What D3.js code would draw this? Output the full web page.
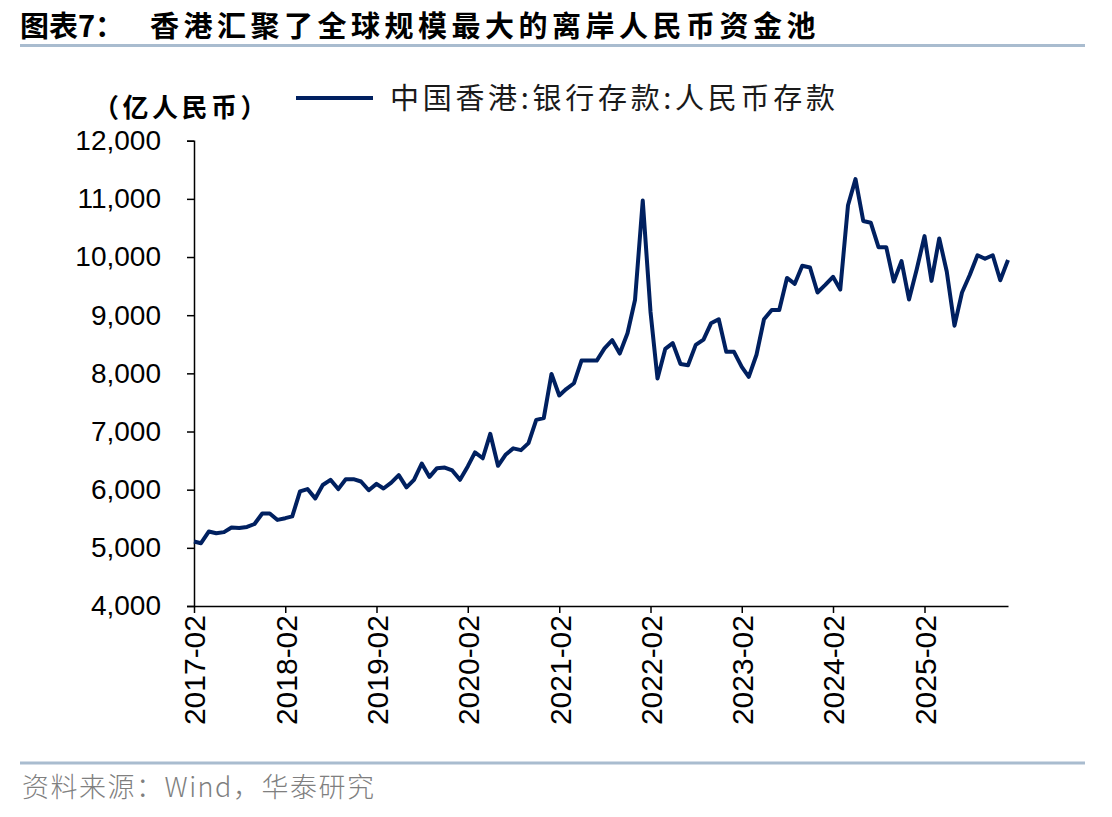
<!DOCTYPE html>
<html>
<head>
<meta charset="utf-8">
<script src="https://cdn.jsdelivr.net/npm/d3@7"></script>
<style>
  html, body { margin: 0; padding: 0; background: #fff; }
  svg { display: block; }
</style>
</head>
<body>
<div id="chart"></div>
<script>
// 数据：中国香港 银行存款 人民币存款（亿人民币），月度，2017-02 起
const startMonth = '2017-02';
const deposits2017 = [5110, 5080, 5280, 5250, 5270, 5350, 5340, 5360, 5410, 5590, 5590];
const deposits2018 = [5480, 5510, 5540, 5970, 6010, 5850, 6080, 6170, 6010, 6180, 6180, 6140];
const deposits2019 = [5990, 6100, 6020, 6120, 6250, 6040, 6170, 6450, 6220, 6370, 6380, 6330];
const deposits2020 = [6170, 6400, 6640, 6540, 6960, 6410, 6600, 6710, 6680, 6800, 7200, 7230];
const deposits2021 = [7990, 7620, 7730, 7830, 8220, 8220, 8220, 8430, 8570, 8340, 8690, 9260];
const deposits2022 = [10970, 9060, 7910, 8420, 8520, 8160, 8140, 8490, 8580, 8860, 8930, 8370];
const deposits2023 = [8370, 8110, 7940, 8320, 8930, 9090, 9090, 9640, 9540, 9850, 9820, 9390];
const deposits2024 = [9520, 9660, 9440, 10890, 11340, 10620, 10590, 10170, 10170, 9580, 9930, 9270];
const deposits2025 = [9790, 10360, 9590, 10320, 9750, 8820, 9390, 9690, 10030, 9970, 10030, 9600];
const deposits2026 = [9950];

const xTickLabels = ['2017-02', '2018-02', '2019-02', '2020-02', '2021-02', '2022-02', '2023-02', '2024-02', '2025-02'];
const yTicks = [4000, 5000, 6000, 7000, 8000, 9000, 10000, 11000, 12000];

const seriesName = '中国香港:银行存款:人民币存款';
const unitLabel = '（亿人民币）';
const titleText = '图表7：';
const titleMain = '香港汇聚了全球规模最大的离岸人民币资金池';
const sourceText = '资料来源：Wind，华泰研究';

// 组装数据
const parseMonth = d3.timeParse('%Y-%m');
const values = [].concat(deposits2017, deposits2018, deposits2019, deposits2020, deposits2021,
  deposits2022, deposits2023, deposits2024, deposits2025, deposits2026);
const start = parseMonth(startMonth);
const data = values.map((v, i) => ({ date: d3.timeMonth.offset(start, i), value: v }));

const width = 1112, height = 817;
const plot = { left: 194, right: 1008, top: 140.7, bottom: 606 };
const lineColor = '#002060';
const cjk = '"Noto Sans CJK SC", "Noto Sans", sans-serif';
const latin = '"Liberation Sans", Arial, sans-serif';

const svg = d3.select('#chart')
  .append('svg')
  .attr('width', width)
  .attr('height', height);

svg.append('rect').attr('width', width).attr('height', height).attr('fill', '#fff');

// 标题
const title = svg.append('text')
  .attr('x', 20)
  .attr('y', 37)
  .style('font-family', cjk)
  .style('font-weight', 700)
  .style('font-size', '29px')
  .attr('fill', '#000');
title.append('tspan').text(titleText);
title.append('tspan').attr('x', 150).style('letter-spacing', '4.5px').text(titleMain);

// 标题下方分隔线 和 底部分隔线
svg.append('line')
  .attr('x1', 20).attr('x2', 1085).attr('y1', 45.5).attr('y2', 45.5)
  .style('stroke', '#a9bccf').style('stroke-width', 3);
svg.append('line')
  .attr('x1', 20).attr('x2', 1085).attr('y1', 763).attr('y2', 763)
  .style('stroke', '#a9bccf').style('stroke-width', 3);

// 资料来源
svg.append('text')
  .attr('x', 22)
  .attr('y', 797)
  .style('font-family', cjk)
  .style('font-weight', 300)
  .style('font-size', '27px')
  .style('letter-spacing', '1.5px')
  .attr('fill', '#7f7f7f')
  .text(sourceText);

// 比例尺
const x = d3.scaleTime()
  .domain(d3.extent(data, d => d.date))
  .range([plot.left, plot.right]);

const y = d3.scaleLinear()
  .domain([4000, 12000])
  .range([plot.bottom, plot.top]);

// y 轴
const yAxis = svg.append('g')
  .attr('transform', `translate(${plot.left},0)`)
  .call(d3.axisLeft(y).tickValues(yTicks).tickSize(7).tickPadding(26)
    .tickFormat(d3.format(',')));
yAxis.select('.domain').attr('stroke', '#000').attr('stroke-width', 1.5);
yAxis.selectAll('.tick line').attr('stroke', '#000').attr('stroke-width', 1.5);
yAxis.selectAll('.tick text')
  .style('font-family', latin)
  .style('font-size', '28px')
  .attr('fill', '#000');

// x 轴
const xAxis = svg.append('g')
  .attr('transform', `translate(0,${plot.bottom})`)
  .call(d3.axisBottom(x).tickValues(xTickLabels.map(parseMonth)).tickSize(7).tickSizeOuter(0)
    .tickFormat(d3.timeFormat('%Y-%m')));
xAxis.select('.domain').attr('stroke', '#000').attr('stroke-width', 1.5);
xAxis.selectAll('.tick line').attr('stroke', '#000').attr('stroke-width', 1.5);
xAxis.selectAll('.tick text')
  .attr('transform', 'rotate(-90)')
  .attr('x', -9)
  .attr('y', 0)
  .attr('dy', '0.36em')
  .style('text-anchor', 'end')
  .style('font-family', latin)
  .style('font-size', '30px')
  .attr('fill', '#000');

// 折线
const line = d3.line()
  .x(d => x(d.date))
  .y(d => y(d.value));

svg.append('path')
  .datum(data)
  .attr('d', line)
  .attr('fill', 'none')
  .style('stroke', lineColor)
  .style('stroke-width', 4)
  .style('stroke-linejoin', 'round');

// 单位
svg.append('text')
  .attr('x', 93)
  .attr('y', 117)
  .style('font-family', cjk)
  .style('font-weight', 700)
  .style('font-size', '26px')
  .style('letter-spacing', '3.5px')
  .attr('fill', '#000')
  .text(unitLabel);

// 图例
svg.append('line')
  .attr('x1', 296).attr('x2', 373).attr('y1', 98).attr('y2', 98)
  .style('stroke', lineColor).style('stroke-width', 4);
svg.append('text')
  .attr('x', 390)
  .attr('y', 109)
  .style('font-family', cjk)
  .style('font-size', '29px')
  .style('letter-spacing', '3.7px')
  .attr('fill', '#1a1a1a')
  .text(seriesName);
</script>
</body>
</html>
